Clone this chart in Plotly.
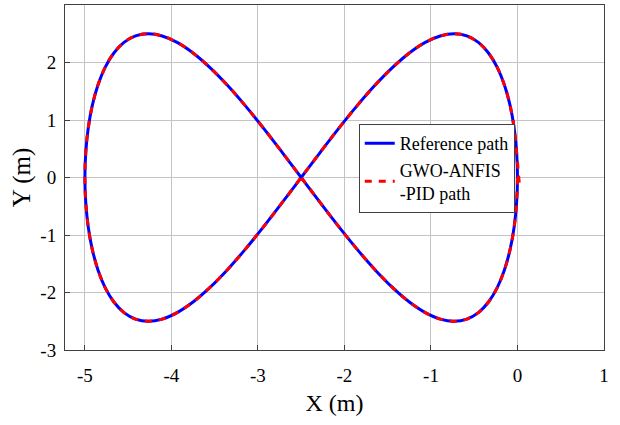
import plotly.graph_objects as go

# Figure-eight reference trajectory, sampled points (X, Y in metres)
ref_x = [0.00, -0.01, -0.038, -0.085, -0.151, -0.234, -0.335, -0.452, -0.585, -0.732,
         -0.893, -1.066, -1.25, -1.443, -1.645, -1.853, -2.066, -2.282, -2.50,
         -2.718, -2.934, -3.147, -3.355, -3.557, -3.75, -3.934, -4.107, -4.268,
         -4.415, -4.548, -4.665, -4.766, -4.849, -4.915, -4.962, -4.99, -5.00,
         -4.99, -4.962, -4.915, -4.849, -4.766, -4.665, -4.548, -4.415, -4.268,
         -4.107, -3.934, -3.75, -3.557, -3.355, -3.147, -2.934, -2.718, -2.50,
         -2.282, -2.066, -1.853, -1.645, -1.443, -1.25, -1.066, -0.893, -0.732,
         -0.585, -0.452, -0.335, -0.234, -0.151, -0.085, -0.038, -0.01, 0.00]
ref_y = [0.00, 0.434, 0.855, 1.25, 1.607, 1.915, 2.165, 2.349, 2.462, 2.50,
         2.462, 2.349, 2.165, 1.915, 1.607, 1.25, 0.855, 0.434, 0.00,
         -0.434, -0.855, -1.25, -1.607, -1.915, -2.165, -2.349, -2.462, -2.50,
         -2.462, -2.349, -2.165, -1.915, -1.607, -1.25, -0.855, -0.434, 0.00,
         0.434, 0.855, 1.25, 1.607, 1.915, 2.165, 2.349, 2.462, 2.50,
         2.462, 2.349, 2.165, 1.915, 1.607, 1.25, 0.855, 0.434, 0.00,
         -0.434, -0.855, -1.25, -1.607, -1.915, -2.165, -2.349, -2.462, -2.50,
         -2.462, -2.349, -2.165, -1.915, -1.607, -1.25, -0.855, -0.434, 0.00]

# Tracked path of the GWO-ANFIS-PID controller (small offset at the start)
pid_x = [0.02] + ref_x[1:]
pid_y = [-0.09] + ref_y[1:]

x_ticks = [-5, -4, -3, -2, -1, 0, 1]
x_labels = ["-5", "-4", "-3", "-2", "-1", "0", "1"]
y_ticks = [-3, -2, -1, 0, 1, 2]
y_labels = ["-3", "-2", "-1", "0", "1", "2"]

FONT = "Liberation Serif"

fig = go.Figure()
fig.add_trace(go.Scatter(
    x=ref_x, y=ref_y, mode="lines", name="Reference path",
    line=dict(color="#0000ff", width=3, shape="spline", smoothing=1),
))
fig.add_trace(go.Scatter(
    x=pid_x, y=pid_y, mode="lines", name="GWO-ANFIS<br>-PID path",
    line=dict(color="#ff0000", width=3, dash="7px,7px", shape="spline", smoothing=1),
))

axis_common = dict(
    showgrid=True, gridcolor="#c4c4c4", gridwidth=1,
    showline=True, linecolor="#404040", linewidth=1, mirror=True,
    ticks="inside", ticklen=5, tickcolor="#404040",
    zeroline=False,
    tickfont=dict(family=FONT, size=19, color="black"),
)

fig.update_layout(
    width=620, height=425,
    margin=dict(l=65, r=16, t=5, b=75),
    paper_bgcolor="white", plot_bgcolor="white",
    font=dict(family=FONT, color="black"),
    xaxis=dict(
        range=[-5.23, 1], tickvals=x_ticks, ticktext=x_labels,
        title=dict(text="X (m)", font=dict(family=FONT, size=24), standoff=9),
        ticklabelstandoff=8,
        **axis_common,
    ),
    yaxis=dict(
        range=[-3, 3], tickvals=y_ticks, ticktext=y_labels,
        title=dict(text="Y (m)", font=dict(family=FONT, size=25), standoff=2),
        ticklabelstandoff=4,
        **axis_common,
    ),
    legend=dict(
        x=0.545, y=0.655, xanchor="left", yanchor="top",
        bgcolor="white", bordercolor="#404040", borderwidth=1,
        font=dict(family=FONT, size=18, color="black"),
        tracegroupgap=2,
    ),
    showlegend=True,
)

fig.write_html("out.html")
